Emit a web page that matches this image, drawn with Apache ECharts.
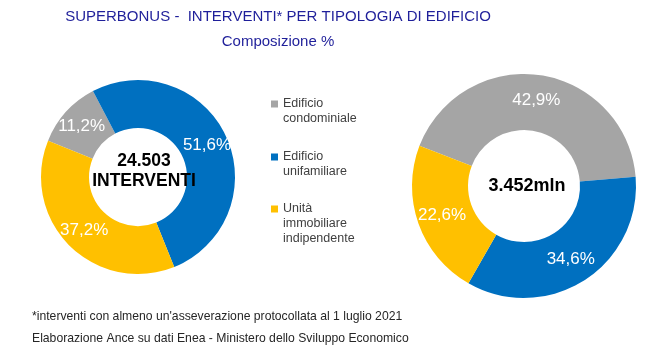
<!DOCTYPE html>
<html>
<head>
<meta charset="utf-8">
<script src="https://cdn.jsdelivr.net/npm/echarts@6/dist/echarts.min.js"></script>
<style>
  html, body { margin: 0; padding: 0; background: #fff; }
  #main { width: 650px; height: 363px; }
</style>
</head>
<body>
<div id="main"></div>
<script>
// categorie (legenda) e quote percentuali
const categories = ['Edificio\ncondominiale', 'Edificio\nunifamiliare', 'Unità\nimmobiliare\nindipendente'];
const interventiShare = [11.2, 51.6, 37.2];   // numero interventi
const importiShare = [42.9, 34.6, 22.6];      // importi
const centerLabels = ['24.503\nINTERVENTI', '3.452mln'];
const colors = ['#A5A5A5', '#0070C0', '#FFC000'];

const font = 'Liberation Sans, Arial, sans-serif';
const lineH = 15;

function toData(values) {
    return categories.map((name, i) => ({ name: name, value: values[i] }));
}

function pctLabel(p) {
    return p.value.toFixed(1).replace('.', ',') + '%';
}

// una legenda per voce; icona alta con il quadratino in cima,
// così resta allineato alla prima riga del testo
const firstLineY = [104, 157, 209];
const legends = categories.map((name, i) => {
    const lines = name.split('\n').length;
    const h = 7 + (lines - 1) * lineH;
    return {
        data: [name],
        left: 271,
        top: firstLineY[i] - 3.5 - 4,
        padding: 0,
        icon: 'path://M0,0h7v7h-7z M0,' + (h - 0.01) + 'h0.01v0.01h-0.01z',
        itemWidth: 7,
        itemHeight: h,
        selectedMode: false,
        textStyle: { fontFamily: font, fontSize: 12.5, color: '#404040', lineHeight: lineH }
    };
});

const pieLabel = {
    show: true,
    position: 'inside',
    formatter: pctLabel,
    color: '#ffffff',
    fontFamily: font,
    fontSize: 17
};

const chart = echarts.init(document.getElementById('main'));
chart.setOption({
    animation: false,
    color: colors,
    title: [
        {
            text: 'SUPERBONUS -  INTERVENTI* PER TIPOLOGIA DI EDIFICIO',
            left: 278, top: 9, textAlign: 'center', padding: 0,
            textStyle: { fontFamily: font, fontSize: 15, fontWeight: 'normal', color: '#1F1F9A' }
        },
        {
            text: 'Composizione %',
            left: 278, top: 34, textAlign: 'center', padding: 0,
            textStyle: { fontFamily: font, fontSize: 15, fontWeight: 'normal', color: '#1F1F9A' }
        },
        {
            text: "*interventi con almeno un'asseverazione protocollata al 1 luglio 2021\nElaborazione Ance su dati Enea - Ministero dello Sviluppo Economico",
            left: 32, top: 306, padding: 0,
            textStyle: { fontFamily: font, fontSize: 12.2, fontWeight: 'normal', color: '#262626', lineHeight: 22 }
        }
    ],
    legend: legends,
    graphic: [
        {
            type: 'text', x: 144, y: 171, z: 100,
            style: {
                text: centerLabels[0], align: 'center', verticalAlign: 'middle',
                font: 'bold 17.5px ' + font, fill: '#000', lineHeight: 20
            }
        },
        {
            type: 'text', x: 527, y: 186, z: 100,
            style: {
                text: centerLabels[1], align: 'center', verticalAlign: 'middle',
                font: 'bold 18px ' + font, fill: '#000'
            }
        }
    ],
    series: [
        {
            name: 'Interventi',
            type: 'pie',
            center: [138, 177],
            radius: [49, 97],
            startAngle: 158,
            clockwise: true,
            silent: true,
            label: pieLabel,
            labelLine: { show: false },
            data: toData(interventiShare)
        },
        {
            name: 'Importi',
            type: 'pie',
            center: [524, 186],
            radius: [56, 112],
            startAngle: 159,
            clockwise: true,
            silent: true,
            label: pieLabel,
            labelLine: { show: false },
            data: toData(importiShare)
        }
    ]
});
</script>
</body>
</html>
